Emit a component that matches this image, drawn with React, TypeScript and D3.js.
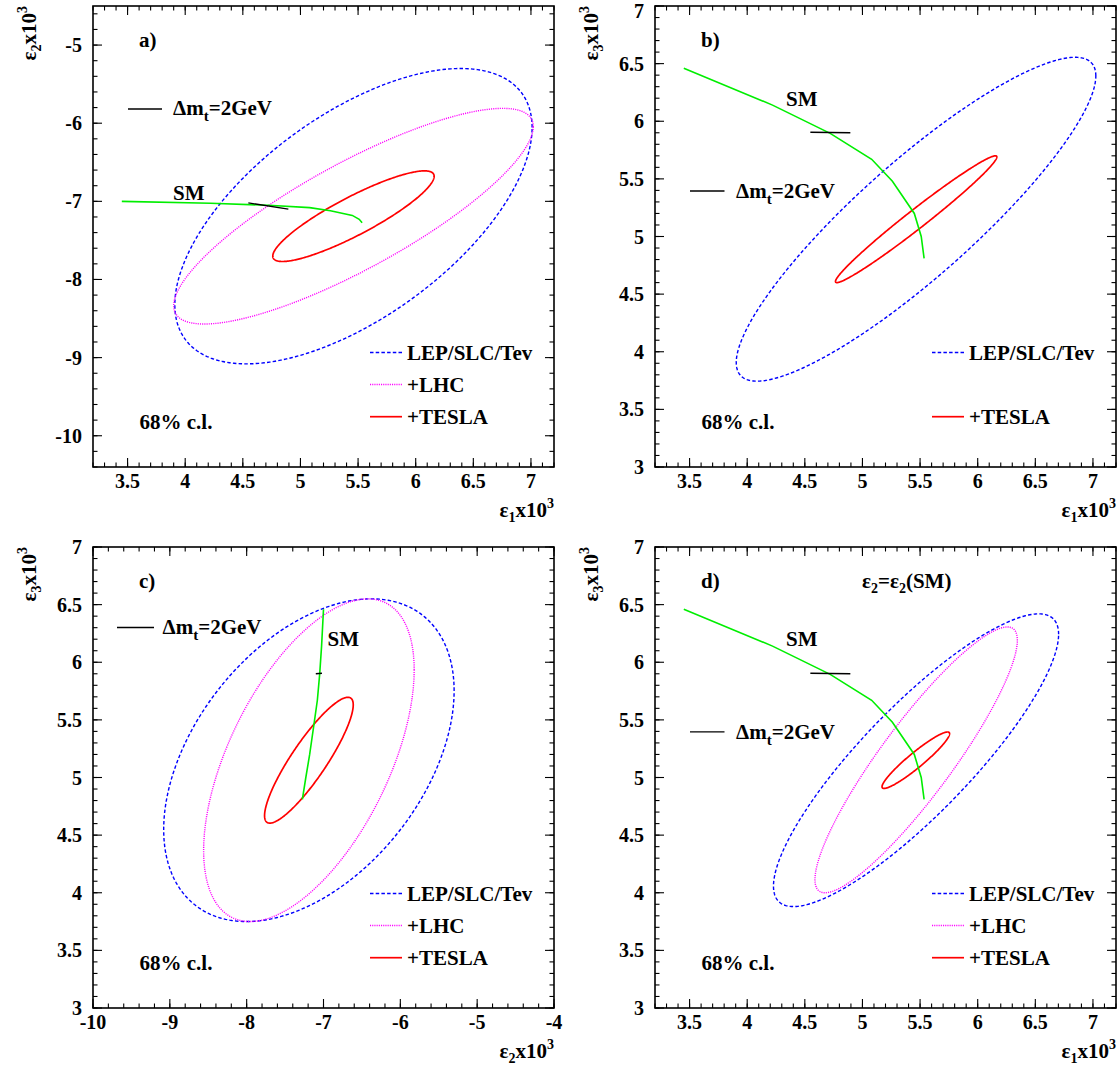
import React from "react";
import * as d3 from "d3";

// ---------- data ----------
const curveNames = ["LEP/SLC/Tev", "+LHC", "+TESLA"];
const curveColors = ["#0000ff", "#ff00ff", "#ff0000"];
const curveDash = ["3.5 2.2", "1.1 1.1", null];

// 68% c.l. contours: [centreX, centreY, halfWidthX, halfWidthY, correlation]
const ellipsesA = [
  [5.46, -7.19, 1.55, 1.89, 0.6],
  [5.46, -7.19, 1.56, 1.38, 0.83],
  [5.46, -7.19, 0.7, 0.58, 0.88],
];
const ellipsesB = [
  [5.465, 5.15, 1.56, 1.405, 0.885],
  null,
  [5.466, 5.15, 0.7, 0.55, 0.982],
];
const ellipsesC = [
  [-7.19, 5.15, 1.89, 1.4, 0.43],
  [-7.19, 5.15, 1.37, 1.4, 0.56],
  [-7.19, 5.15, 0.577, 0.546, 0.88],
];
const ellipsesD = [
  [5.465, 5.15, 1.237, 1.27, 0.86],
  [5.466, 5.153, 0.878, 1.153, 0.9],
  [5.463, 5.15, 0.293, 0.245, 0.94],
];

// SM prediction (varying m_t)
const smEps1 = [3.45, 4.22, 4.72, 5.08, 5.26, 5.45, 5.51, 5.535];
const smEps2 = [-7.0, -7.025, -7.05, -7.08, -7.12, -7.18, -7.23, -7.275];
const smEps3 = [6.46, 6.14, 5.895, 5.67, 5.48, 5.2, 5.0, 4.81];

// Delta m_t = 2 GeV segment
const dmtEps1 = [4.548, 4.895];
const dmtEps2 = [-7.02, -7.1];
const dmtEps3 = [5.905, 5.9];

// axes
const eps1Domain = [3.2, 7.2];
const eps2DomainA = [-10.4, -4.5];
const eps2DomainC = [-10, -4];
const eps3Domain = [3, 7];

// ---------- layout ----------
const W = 461;
const H = 461;

type Panel = {
  id: string;
  left: number;
  top: number;
  xDom: number[];
  yDom: number[];
  xMajor: number;
  xMinor: number;
  yMajor: number;
  yMinor: number;
  xVar: number;
  yVar: number;
  xTitle: number;
  yTitle: number;
  ellipses: (number[] | null)[];
  dmt: { x1: number; x2: number; y: number; tx: number; ty: number };
  sm: { x: number; y: number };
  legendRows: number[];
};

const panels: Panel[] = [
  {
    id: "a)", left: 93, top: 6, xDom: eps1Domain, yDom: eps2DomainA,
    xMajor: 0.5, xMinor: 0.1, yMajor: 1, yMinor: 0.2, xVar: 1, yVar: 2, xTitle: 1, yTitle: 2,
    ellipses: ellipsesA,
    dmt: { x1: 35, x2: 69, y: 103, tx: 80, ty: 108.5 },
    sm: { x: 80, y: 194 },
    legendRows: [0, 1, 2],
  },
  {
    id: "b)", left: 655, top: 6, xDom: eps1Domain, yDom: eps3Domain,
    xMajor: 0.5, xMinor: 0.1, yMajor: 0.5, yMinor: 0.1, xVar: 1, yVar: 3, xTitle: 1, yTitle: 3,
    ellipses: ellipsesB,
    dmt: { x1: 35, x2: 69.5, y: 185, tx: 81, ty: 192 },
    sm: { x: 131, y: 100 },
    legendRows: [0, 2],
  },
  {
    id: "c)", left: 93, top: 547, xDom: eps2DomainC, yDom: eps3Domain,
    xMajor: 1, xMinor: 0.2, yMajor: 0.5, yMinor: 0.1, xVar: 2, yVar: 3, xTitle: 2, yTitle: 3,
    ellipses: ellipsesC,
    dmt: { x1: 24, x2: 61, y: 80.5, tx: 69.5, ty: 87.4 },
    sm: { x: 234.5, y: 99.3 },
    legendRows: [0, 1, 2],
  },
  {
    id: "d)", left: 655, top: 547, xDom: eps1Domain, yDom: eps3Domain,
    xMajor: 0.5, xMinor: 0.1, yMajor: 0.5, yMinor: 0.1, xVar: 1, yVar: 3, xTitle: 1, yTitle: 3,
    ellipses: ellipsesD,
    dmt: { x1: 35, x2: 69.5, y: 184.8, tx: 81, ty: 192 },
    sm: { x: 131, y: 99.3 },
    legendRows: [0, 1, 2],
  },
];

const legendRowY = [346.5, 378.5, 410.7];
const FONT = "'Liberation Serif', 'Times New Roman', serif";

function ticks(dom: number[], step: number) {
  const lo = Math.min(dom[0], dom[1]);
  const hi = Math.max(dom[0], dom[1]);
  const a = Math.ceil(lo / step - 1e-6);
  const b = Math.floor(hi / step + 1e-6);
  return d3.range(a, b + 1).map((k) => +(k * step).toFixed(6));
}

function fmt(v: number) {
  return String(Number(v.toFixed(2)));
}

function ellipsePoints(e: number[]) {
  const [cx, cy, hx, hy, r] = e;
  const s = Math.sqrt(1 - r * r);
  return d3.range(0, 360).map((deg) => {
    const t = (deg * Math.PI) / 180;
    return [cx + hx * Math.cos(t), cy + hy * (r * Math.cos(t) + s * Math.sin(t))];
  });
}

const pickVar = (v: number) => (v === 1 ? smEps1 : v === 2 ? smEps2 : smEps3);
const pickDmt = (v: number) => (v === 1 ? dmtEps1 : v === 2 ? dmtEps2 : dmtEps3);

function EpsTitle({ n }: { n: number }) {
  return (
    <>
      ε<tspan dy={5} fontSize={14}>{n}</tspan>
      <tspan dy={-5}>x10</tspan>
      <tspan dy={-9} fontSize={14}>3</tspan>
    </>
  );
}

function PanelView({ p }: { p: Panel }) {
  const L = p.left, T = p.top, R = L + W, B = T + H;
  const x = d3.scaleLinear().domain(p.xDom).range([L, R]);
  const y = d3.scaleLinear().domain(p.yDom).range([B, T]);
  const line = d3
    .line<number[]>()
    .x((d) => x(d[0]))
    .y((d) => y(d[1]));
  const closed = d3
    .line<number[]>()
    .x((d) => x(d[0]))
    .y((d) => y(d[1]))
    .curve(d3.curveLinearClosed);

  const xMaj = ticks(p.xDom, p.xMajor);
  const xMin = ticks(p.xDom, p.xMinor);
  const yMaj = ticks(p.yDom, p.yMajor);
  const yMin = ticks(p.yDom, p.yMinor);

  const smX = pickVar(p.xVar);
  const smY = pickVar(p.yVar);
  const smPts = smX.map((v, i) => [v, smY[i]]);
  const dX = pickDmt(p.xVar);
  const dY = pickDmt(p.yVar);
  const dPts = dX.map((v, i) => [v, dY[i]]);

  const MJ = 9, MN = 4.5;
  const tickStroke = { stroke: "#000", strokeWidth: 1.1 };

  return (
    <g>
      <defs>
        <clipPath id={"clip" + p.id[0]}>
          <rect x={L} y={T} width={W} height={H} />
        </clipPath>
      </defs>
      {/* ticks */}
      {xMin.map((v, i) => (
        <g key={"xm" + i}>
          <line x1={x(v)} x2={x(v)} y1={B} y2={B - MN} {...tickStroke} />
          <line x1={x(v)} x2={x(v)} y1={T} y2={T + MN} {...tickStroke} />
        </g>
      ))}
      {xMaj.map((v, i) => (
        <g key={"xM" + i}>
          <line x1={x(v)} x2={x(v)} y1={B} y2={B - MJ} {...tickStroke} />
          <line x1={x(v)} x2={x(v)} y1={T} y2={T + MJ} {...tickStroke} />
          <text x={x(v)} y={B + 21} textAnchor="middle" fontSize={20} fontWeight="bold" fontFamily={FONT}>
            {fmt(v)}
          </text>
        </g>
      ))}
      {yMin.map((v, i) => (
        <g key={"ym" + i}>
          <line x1={L} x2={L + MN} y1={y(v)} y2={y(v)} {...tickStroke} />
          <line x1={R} x2={R - MN} y1={y(v)} y2={y(v)} {...tickStroke} />
        </g>
      ))}
      {yMaj.map((v, i) => (
        <g key={"yM" + i}>
          <line x1={L} x2={L + MJ} y1={y(v)} y2={y(v)} {...tickStroke} />
          <line x1={R} x2={R - MJ} y1={y(v)} y2={y(v)} {...tickStroke} />
          <text x={L - 11} y={Math.max(y(v) + 7, 18)} textAnchor="end" fontSize={20} fontWeight="bold" fontFamily={FONT}>
            {fmt(v)}
          </text>
        </g>
      ))}

      {/* contours */}
      <g clipPath={`url(#clip${p.id[0]})`}>
        {p.ellipses.map((e, i) =>
          e ? (
            <path
              key={"e" + i}
              d={closed(ellipsePoints(e)) || ""}
              fill="none"
              stroke={curveColors[i]}
              strokeWidth={i === 2 ? 1.7 : 1.4}
              strokeDasharray={curveDash[i] || undefined}
            />
          ) : null
        )}
        <path d={line(smPts) || ""} fill="none" stroke="#00ee00" strokeWidth={1.6} />
        <path d={line(dPts) || ""} fill="none" stroke="#000" strokeWidth={1.4} />
      </g>

      {/* frame */}
      <rect x={L} y={T} width={W} height={H} fill="none" stroke="#000" strokeWidth={1.6} />

      {/* texts */}
      <g fontFamily={FONT} fontWeight="bold" fontSize={21}>
        <text x={L + 46} y={T + 41}>{p.id}</text>
        <line x1={L + p.dmt.x1} x2={L + p.dmt.x2} y1={T + p.dmt.y} y2={T + p.dmt.y} stroke="#000" strokeWidth={1.3} />
        <text x={L + p.dmt.tx} y={T + p.dmt.ty}>
          Δm<tspan dy={6} fontSize={15}>t</tspan>
          <tspan dy={-6}>=2GeV</tspan>
        </text>
        <text x={L + p.sm.x} y={T + p.sm.y}>SM</text>
        <text x={L + 46.5} y={T + 422.5}>68% c.l.</text>
        {p.legendRows.map((r) => (
          <g key={"lg" + r}>
            <line
              x1={L + 277}
              x2={L + 309}
              y1={T + legendRowY[r]}
              y2={T + legendRowY[r]}
              stroke={curveColors[r]}
              strokeWidth={r === 2 ? 1.7 : 1.4}
              strokeDasharray={curveDash[r] || undefined}
            />
            <text x={L + 314} y={T + legendRowY[r] + 7}>{curveNames[r]}</text>
          </g>
        ))}
        {p.id === "d)" && (
          <text x={L + 207} y={T + 41}>
            ε<tspan dy={5} fontSize={14}>2</tspan>
            <tspan dy={-5}>=ε</tspan>
            <tspan dy={5} fontSize={14}>2</tspan>
            <tspan dy={-5}>(SM)</tspan>
          </text>
        )}
        {/* axis titles */}
        <text x={R} y={B + 50} textAnchor="end" fontSize={21}>
          <EpsTitle n={p.xTitle} />
        </text>
        <text transform={`translate(${L - 57},${T}) rotate(-90)`} textAnchor="end" fontSize={21}>
          <EpsTitle n={p.yTitle} />
        </text>
      </g>
    </g>
  );
}

export default function App() {
  return (
    <svg width={1118} height={1067} viewBox="0 0 1118 1067" style={{ display: "block", position: "absolute", left: 0, top: 0, background: "#fff" }}>
      <rect x={0} y={0} width={1118} height={1067} fill="#fff" />
      {panels.map((p) => (
        <PanelView key={p.id} p={p} />
      ))}
    </svg>
  );
}
